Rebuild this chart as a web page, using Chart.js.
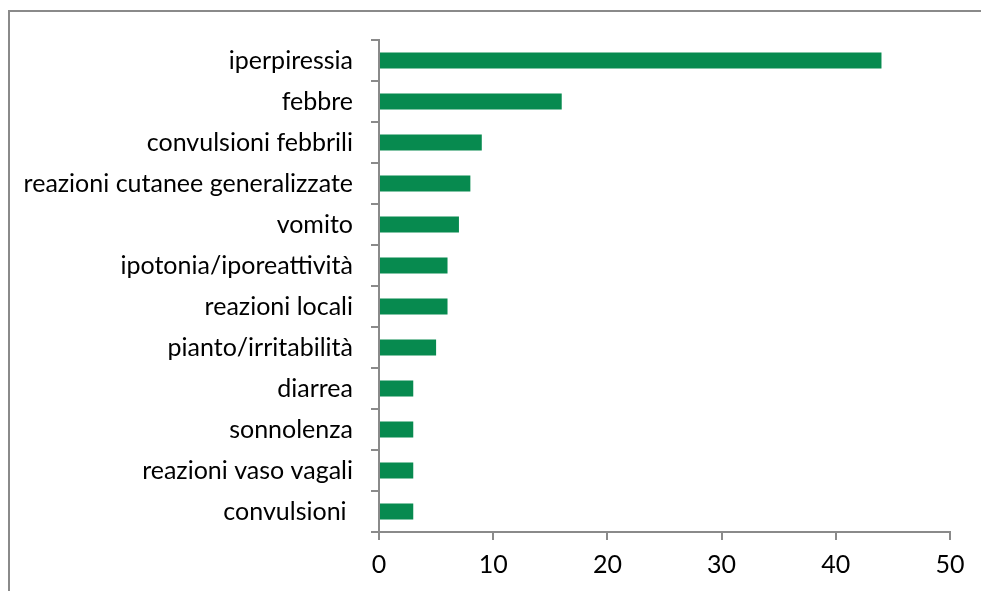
<!DOCTYPE html>
<html lang="it">
<head>
    <meta charset="UTF-8">
    <title>Eventi avversi</title>
    <script src="https://cdn.jsdelivr.net/npm/chart.js"></script>
    <style>
        html, body { margin: 0; padding: 0; background: #fff; overflow: hidden; }
        .cornice {
            position: absolute; left: 8px; top: 10px; width: 1200px; height: 800px;
            border-left: 2px solid #8a8a8a; border-top: 2px solid #8a8a8a;
        }
        .wrap { position: absolute; left: 0; top: 0; width: 981px; height: 591px; }
    </style>
</head>
<body>
    <div class="cornice"></div>
    <div class="wrap"><canvas id="grafico" width="981" height="591"></canvas></div>

    <script>
        // categorie (dall'alto in basso) e numero di segnalazioni
        const categorie = [
            'iperpiressia', 'febbre', 'convulsioni febbrili', 'reazioni cutanee generalizzate',
            'vomito', 'ipotonia/iporeattività', 'reazioni locali', 'pianto/irritabilità',
            'diarrea', 'sonnolenza', 'reazioni vaso vagali', 'convulsioni '
        ];
        const valori = [44, 16, 9, 8, 7, 6, 6, 5, 3, 3, 3, 3];
        const tickX = [0, 10, 20, 30, 40, 50];

        const grigio = '#8a8a8a';
        const font = { family: "Lato, sans-serif", size: 25 };

        new Chart(document.getElementById('grafico'), {
            type: 'bar',
            data: {
                labels: categorie,
                datasets: [{
                    data: valori,
                    backgroundColor: '#078a4f',
                    borderWidth: 0,
                    barPercentage: 0.39,
                    categoryPercentage: 1
                }]
            },
            options: {
                indexAxis: 'y',
                responsive: false,
                animation: false,
                layout: { padding: { left: 0, top: 40, right: 31, bottom: 0 } },
                plugins: { legend: { display: false }, tooltip: { enabled: false } },
                scales: {
                    x: {
                        min: tickX[0],
                        max: tickX[tickX.length - 1],
                        afterBuildTicks: s => { s.ticks = tickX.map(v => ({ value: v })); },
                        afterFit: s => { s.height = 59; },
                        grid: { drawOnChartArea: false, color: grigio, lineWidth: 2, tickLength: 8 },
                        border: { color: grigio, width: 2 },
                        ticks: { color: '#000', font: font, padding: 10, maxRotation: 0 }
                    },
                    y: {
                        afterFit: s => { s.width = 379; },
                        grid: { drawOnChartArea: false, color: grigio, lineWidth: 2, tickLength: 8, offset: true },
                        border: { color: grigio, width: 2 },
                        ticks: { color: '#000', font: font, padding: 18, autoSkip: false }
                    }
                }
            }
        });
    </script>
</body>
</html>
